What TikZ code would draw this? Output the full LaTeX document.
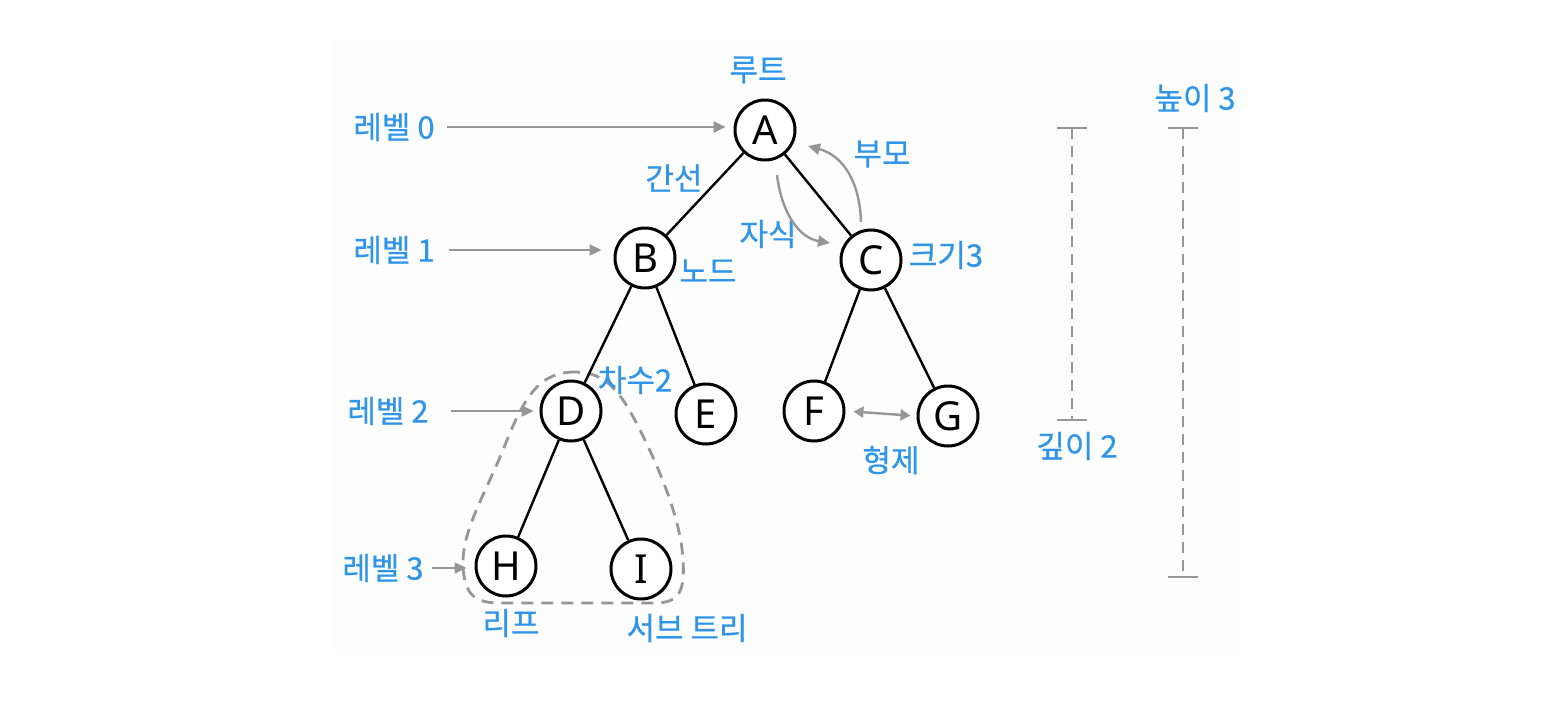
\documentclass[tikz,border=0pt]{standalone}
\usepackage{fontspec}
\setmainfont{Noto Sans}
\newfontfamily\kr[FakeBold=0.6]{Noto Sans CJK KR}
\usetikzlibrary{arrows.meta}
\definecolor{lblue}{RGB}{47,149,232}
\definecolor{agray}{RGB}{150,150,150}
\definecolor{panel}{RGB}{253,253,253}
\begin{document}
\begin{tikzpicture}[x=0.5pt,y=-0.5pt,
  tnode/.style={circle,draw,line width=1.5pt,minimum size=30pt,inner sep=0pt,fill=white,font=\fontsize{20}{20}\selectfont},
  lbl/.style={text=lblue,font=\kr\fontsize{15.5}{15.5}\selectfont,inner sep=1pt},
  edge/.style={line width=1.2pt},
  garrow/.style={draw=agray,line width=1.2pt,-{Triangle[length=6pt,width=5.5pt]}},
  dim/.style={draw=agray,line width=1.3pt,dash pattern=on 5.5pt off 3.5pt},
  tick/.style={draw=agray,line width=1.3pt},
  subtree/.style={draw=agray,line width=1.4pt,dash pattern=on 6pt off 4pt}]
\path[use as bounding box] (0,0) rectangle (1560,718);
\fill[panel] (333,39) rectangle (1240,651);

% subtree outline
\draw[subtree] (575,372) .. controls (540,372) and (525,395) .. (505,445)
  .. controls (485,495) and (462,530) .. (463,565)
  .. controls (464,595) and (475,603) .. (500,603) -- (655,603)
  .. controls (680,603) and (685,590) .. (683,560)
  .. controls (681,520) and (660,470) .. (640,430)
  .. controls (620,390) and (605,372) .. (575,372) -- cycle;

% tree nodes
\node[tnode] (A) at (765,130) {A};
\node[tnode] (B) at (645,258) {B};
\node[tnode] (C) at (871,260) {C};
\node[tnode] (D) at (571,411) {D};
\node[tnode] (E) at (706,414) {E};
\node[tnode] (F) at (814,411) {F};
\node[tnode] (G) at (948,416) {G};
\node[tnode] (H) at (506,566) {H};
\node[tnode] (I) at (641,569) {I};

\draw[edge] (A) -- (B);
\draw[edge] (A) -- (C);
\draw[edge] (B) -- (D);
\draw[edge] (B) -- (E);
\draw[edge] (C) -- (F);
\draw[edge] (C) -- (G);
\draw[edge] (D) -- (H);
\draw[edge] (D) -- (I);

% level labels
\node[lbl] (l0) at (394,127) {레벨 0};
\node[lbl] (l1) at (394,250) {레벨 1};
\node[lbl] (l2) at (388,411) {레벨 2};
\node[lbl] (l3) at (383,568) {레벨 3};
\draw[garrow,shorten <=5pt,shorten >=4pt] (l0.east) -- (l0.east -| A.west);
\draw[garrow,shorten <=6pt,shorten >=6pt] (l1.east) -- (l1.east -| B.west);
\draw[garrow,shorten <=10pt,shorten >=3pt] (l2.east) -- (l2.east -| D.west);
\draw[garrow,shorten <=3pt,shorten >=4pt] (l3.east) -- (l3.east -| H.west);

% other labels
\node[lbl] (root) at (758,70) {루트};
\node[lbl] (gs) at (674,178) {간선};
\node[lbl] (nd) at (708,271) {노드};
\node[lbl] (js) at (768,234) {자식};
\node[lbl] (bm) at (882,154) {부모};
\node[lbl] (sz) at (946,255) {크기3};
\node[lbl] (cs) at (635,380) {차수2};
\node[lbl] (lf) at (511,623) {리프};
\node[lbl] (st) at (687,628) {서브 트리};
\node[lbl] (hj) at (891,460) {형제};
\node[lbl] (dp) at (1077,446) {깊이 2};
\node[lbl] (ht) at (1195,98) {높이 3};

% child / parent arrows
\coordinate (c1) at (777,175);
\coordinate (c2) at (830,243);
\coordinate (p1) at (861,222);
\coordinate (p2) at (808,146);
\draw[garrow] (c1) .. controls (782,215) and (800,238) .. (c2);
\draw[garrow] (p1) .. controls (860,185) and (845,156) .. (p2);

% sibling arrow
\draw[draw=agray,line width=1.2pt,{Triangle[length=5pt,width=5.5pt]}-{Triangle[length=5pt,width=5.5pt]},shorten <=4pt,shorten >=3pt] (F.east) -- (G.west);

% depth / height
\coordinate (d2t) at (1072,128);
\coordinate (d2b) at (1072,420);
\coordinate (h3t) at (1183,128);
\coordinate (h3b) at (1183,577);
\draw[dim] (d2t) -- (d2b);
\draw[tick] ([xshift=-7.5pt]d2t) -- ([xshift=7.5pt]d2t);
\draw[tick] ([xshift=-7.5pt]d2b) -- ([xshift=7.5pt]d2b);
\draw[dim] (h3t) -- (h3b);
\draw[tick] ([xshift=-7.5pt]h3t) -- ([xshift=7.5pt]h3t);
\draw[tick] ([xshift=-7.5pt]h3b) -- ([xshift=7.5pt]h3b);
\end{tikzpicture}
\end{document}
